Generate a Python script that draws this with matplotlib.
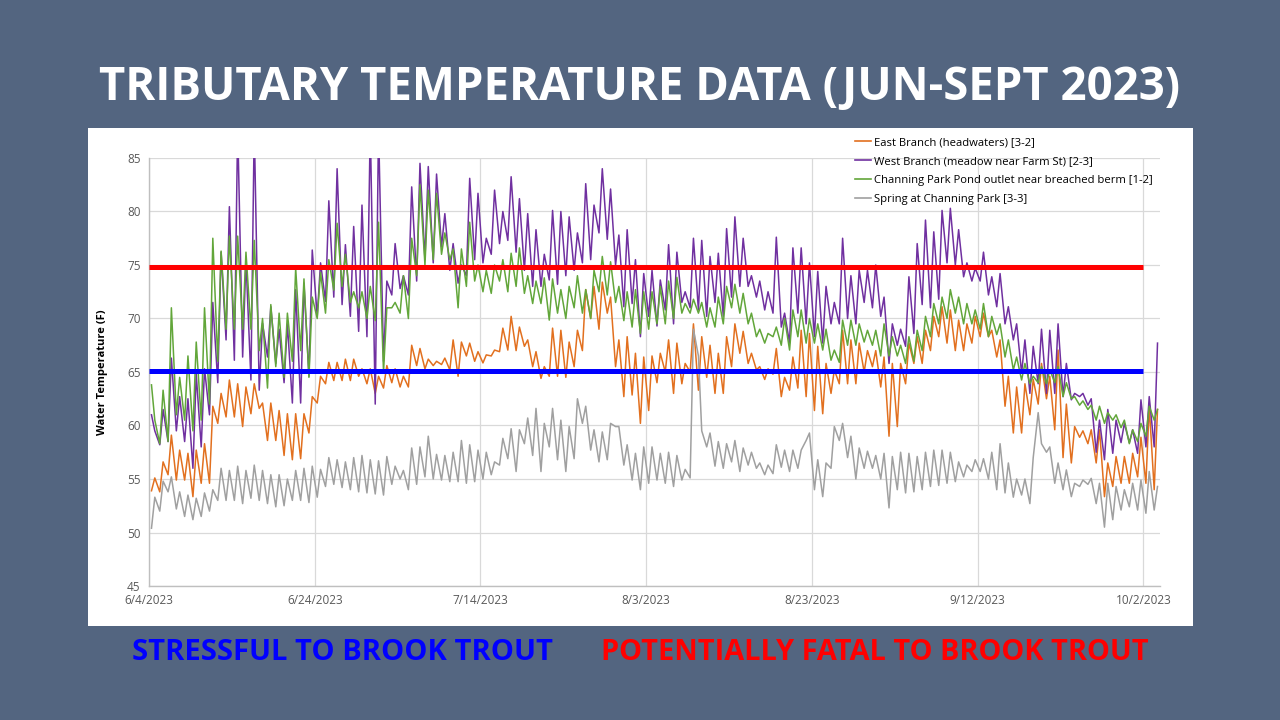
import matplotlib
matplotlib.use('Agg')
import matplotlib.pyplot as plt
import matplotlib.dates as mdates
from matplotlib.patches import Rectangle
from matplotlib.lines import Line2D
from datetime import datetime, timedelta

# ---------------- data ----------------
start = datetime(2023, 6, 4)
tick_dates = ["6/4/2023", "6/24/2023", "7/14/2023", "8/3/2023", "8/23/2023", "9/12/2023", "10/2/2023"]
y_ticks = [45, 50, 55, 60, 65, 70, 75, 80, 85]
fatal_temp = 74.8
stress_temp = 65.1
labels = ["East Branch (headwaters) [3-2]",
          "West Branch (meadow near Farm St) [2-3]",
          "Channing Park Pond outlet near breached berm [1-2]",
          "Spring at Channing Park [3-3]"]

# morning (low) and afternoon (high) readings, one pair per day from 6/4
east_am = [53.9, 53.8, 55.4, 54.9, 54.9, 53.35, 54.6, 54.6, 60.2, 60.8,
           60.8, 59.9, 61.1, 61.6, 58.6, 58.6, 57.2, 56.8, 56.9, 59.3,
           62.1, 63.9, 64.2, 64.2, 64.2, 64.6, 63.9, 63.0, 63.5, 64.0,
           63.6, 63.6, 65.6, 65.3, 65.6, 65.7, 65.2, 64.6, 66.5, 66.0,
           65.85, 66.5, 66.9, 67.05, 67.0, 67.4, 65.5, 64.4, 64.6, 64.6,
           64.5, 65.5, 67.0, 70.0, 69.0, 70.5, 65.5, 62.7, 62.85, 60.2,
           61.4, 64.0, 65.0, 63.0, 63.9, 65.0, 63.3, 64.5, 63.0, 63.0,
           65.5, 66.75, 65.8, 65.2, 64.3, 64.8, 62.7, 63.3, 63.5, 62.7,
           61.4, 61.1, 63.0, 63.9, 63.9, 63.9, 65.0, 65.5, 63.6, 59.0,
           59.9, 63.9, 65.8, 65.8, 67.0, 68.3, 67.7, 67.0, 67.0, 67.7,
           68.3, 68.3, 66.4, 61.8, 59.3, 59.3, 61.0, 62.0, 62.5, 59.6,
           57.0, 56.5, 58.9, 58.3, 56.5, 53.35, 54.3, 54.6, 54.6, 55.2,
           54.6, 54.0]
east_pm = [55.1, 56.6, 59.1, 57.7, 57.4, 57.7, 58.3, 61.8, 63.0, 64.25,
           63.9, 63.6, 63.9, 62.1, 62.1, 61.4, 61.1, 61.1, 61.1, 62.7,
           64.6, 65.9, 65.9, 66.2, 66.2, 65.3, 65.3, 64.6, 65.6, 65.3,
           64.6, 67.5, 67.2, 66.2, 66.0, 66.3, 68.0, 67.8, 67.7, 66.9,
           66.6, 67.05, 69.1, 70.2, 69.2, 68.0, 66.9, 65.5, 69.1, 68.9,
           67.8, 68.9, 72.7, 73.0, 73.4, 72.0, 68.0, 68.3, 66.75, 66.4,
           66.5, 66.75, 68.0, 67.7, 65.8, 69.5, 68.3, 67.5, 66.75, 68.3,
           69.5, 68.8, 66.75, 65.5, 65.3, 67.2, 64.5, 66.4, 68.9, 68.6,
           67.4, 65.8, 65.2, 68.9, 68.0, 67.7, 67.0, 67.0, 66.4, 65.8,
           65.8, 67.7, 68.3, 68.9, 70.2, 71.1, 70.8, 69.85, 69.5, 70.2,
           70.5, 68.9, 68.0, 64.6, 63.6, 63.9, 64.3, 65.8, 64.6, 67.05,
           62.0, 59.9, 59.5, 59.6, 59.6, 56.5, 57.1, 57.1, 57.4, 58.9,
           61.8, 61.5]

west_am = [61.0, 58.2, 58.5, 59.5, 58.5, 56.0, 58.0, 61.0, 64.0, 68.0,
           66.1, 66.4, 64.25, 63.3, 66.4, 65.8, 64.0, 62.1, 62.1, 64.6,
           70.2, 71.6, 72.0, 71.3, 70.2, 68.8, 68.3, 62.0, 66.0, 72.2,
           72.8, 72.2, 73.5, 75.5, 75.2, 76.7, 74.5, 73.3, 74.0, 75.5,
           75.2, 76.0, 77.0, 77.3, 76.2, 74.5, 73.0, 73.0, 73.6, 73.2,
           74.0, 74.5, 75.2, 75.5, 78.0, 77.4, 75.0, 71.1, 71.4, 68.3,
           70.2, 69.3, 70.8, 69.5, 71.5, 71.0, 70.8, 70.2, 71.5, 70.2,
           72.0, 73.0, 73.0, 72.0, 70.8, 70.5, 69.2, 67.7, 70.5, 69.5,
           68.3, 67.7, 69.5, 69.5, 70.0, 69.5, 71.5, 71.0, 70.2, 65.8,
           67.5, 67.4, 68.6, 71.3, 71.0, 71.8, 75.2, 75.0, 73.9, 73.5,
           73.5, 72.2, 71.1, 69.5, 68.0, 64.9, 63.0, 63.9, 63.0, 63.0,
           62.7, 62.4, 62.7, 61.9, 57.5, 56.8, 57.4, 58.4, 58.4, 57.4,
           58.0, 58.0]
west_pm = [59.5, 61.5, 66.3, 62.7, 62.5, 64.8, 65.3, 71.5, 76.2, 80.45,
           88.0, 75.5, 88.0, 69.55, 71.1, 69.0, 69.5, 72.7, 73.3, 76.4,
           75.2, 81.0, 84.0, 76.9, 78.6, 80.6, 88.0, 88.0, 73.5, 77.0,
           74.0, 82.3, 84.5, 84.2, 83.5, 79.8, 77.0, 75.0, 83.1, 81.7,
           77.5, 82.0, 80.0, 83.25, 81.2, 79.8, 78.3, 76.0, 80.1, 80.0,
           79.5, 78.0, 82.6, 80.6, 84.0, 82.1, 77.8, 78.3, 75.5, 74.2,
           74.5, 73.6, 76.9, 76.2, 72.5, 77.5, 77.3, 75.8, 76.1, 78.4,
           79.5, 77.5, 74.0, 73.5, 72.5, 77.6, 70.5, 76.6, 76.6, 75.2,
           74.4, 73.0, 71.5, 77.5, 74.0, 74.5, 74.5, 75.0, 72.0, 69.5,
           69.0, 73.9, 77.0, 79.2, 78.1, 80.1, 80.3, 78.3, 75.2, 74.7,
           76.2, 73.9, 74.2, 71.1, 69.5, 68.0, 67.4, 69.0, 68.9, 69.5,
           65.8, 63.0, 63.0, 62.5, 60.5, 61.5, 60.5, 60.2, 59.6, 62.4,
           62.7, 67.7]

pond_am = [63.8, 58.3, 58.5, 61.0, 60.5, 59.5, 60.5, 62.0, 66.0, 69.0,
           69.0, 69.0, 69.0, 67.0, 63.5, 65.5, 64.5, 66.0, 67.0, 64.5,
           70.0, 70.5, 72.65, 73.0, 71.5, 71.0, 70.0, 69.8, 65.0, 71.0,
           70.5, 70.0, 74.0, 75.0, 75.5, 76.0, 75.5, 71.0, 73.0, 73.5,
           72.5, 72.35, 73.5, 72.5, 73.0, 72.35, 71.4, 71.4, 69.85, 70.5,
           70.0, 71.0, 70.5, 70.0, 72.5, 72.2, 71.5, 69.8, 69.2, 68.6,
           69.0, 69.5, 69.5, 70.0, 70.5, 70.5, 70.5, 69.2, 69.2, 69.5,
           71.0, 70.5, 69.5, 68.3, 67.7, 68.3, 67.5, 67.05, 68.3, 67.7,
           67.7, 67.05, 66.1, 65.9, 67.5, 67.5, 67.8, 67.5, 66.5, 66.5,
           66.5, 65.8, 66.0, 67.0, 68.3, 69.5, 70.0, 70.5, 69.5, 69.5,
           69.0, 68.3, 68.5, 66.4, 65.2, 64.25, 63.9, 64.0, 63.9, 64.0,
           62.7, 62.5, 61.9, 61.5, 60.5, 60.2, 60.5, 59.8, 58.3, 58.5,
           59.0, 60.5]
pond_pm = [60.5, 63.3, 71.0, 64.5, 66.5, 67.8, 71.0, 77.5, 76.3, 77.7,
           77.7, 76.2, 77.3, 70.0, 71.3, 70.5, 70.5, 74.7, 73.7, 72.0,
           74.3, 75.5, 78.9, 76.0, 72.5, 72.5, 73.0, 79.0, 71.0, 71.5,
           74.0, 77.5, 82.5, 82.0, 81.7, 78.0, 76.5, 76.5, 79.0, 75.0,
           74.5, 75.0, 75.5, 76.1, 76.6, 74.0, 73.5, 73.8, 73.7, 72.7,
           73.0, 74.0, 72.7, 74.5, 75.8, 75.3, 73.0, 72.5, 72.7, 72.5,
           72.5, 73.0, 73.5, 73.85, 71.4, 71.8, 71.5, 71.0, 72.0, 73.0,
           73.2, 72.35, 70.5, 69.0, 68.6, 69.2, 70.0, 70.8, 70.8, 70.0,
           69.5, 69.0, 67.05, 69.85, 69.85, 69.5, 68.9, 68.9, 69.5, 68.3,
           67.5, 68.3, 68.9, 70.2, 71.4, 72.0, 72.7, 72.0, 71.4, 70.8,
           71.4, 70.2, 69.5, 68.0, 66.4, 65.8, 64.6, 65.5, 65.2, 65.5,
           64.0, 62.7, 62.3, 61.9, 61.8, 61.2, 61.0, 60.5, 59.6, 60.2,
           61.8, 61.5]

spring_am = [50.4, 52.0, 53.8, 52.2, 51.5, 51.2, 51.5, 52.0, 53.0, 53.0,
             53.0, 52.7, 53.2, 53.0, 52.7, 52.4, 52.5, 53.0, 53.0, 52.8,
             53.3, 54.3, 54.5, 54.2, 54.0, 53.8, 53.7, 53.6, 53.5, 54.5,
             55.0, 54.0, 54.5, 55.2, 55.0, 54.9, 54.75, 54.75, 54.6, 54.75,
             55.0, 55.4, 56.3, 56.9, 55.7, 58.3, 57.2, 55.7, 58.0, 56.8,
             55.7, 56.9, 60.2, 57.7, 56.6, 56.8, 59.9, 56.3, 54.9, 54.0,
             54.6, 54.9, 54.6, 54.3, 54.9, 55.1, 66.5, 58.0, 56.2, 56.0,
             56.6, 55.7, 56.3, 56.0, 55.4, 55.5, 56.1, 55.7, 56.0, 58.6,
             54.0, 53.35, 56.0, 58.6, 57.0, 55.0, 56.0, 56.0, 55.0, 52.3,
             54.0, 53.7, 53.8, 54.0, 54.3, 54.4, 54.6, 54.75, 55.2, 55.7,
             55.7, 55.0, 54.0, 53.7, 53.3, 53.5, 52.7, 61.2, 57.5, 54.6,
             54.0, 53.35, 54.3, 54.5, 52.7, 50.5, 51.2, 52.1, 52.4, 52.1,
             51.8, 52.1]
spring_pm = [53.3, 54.8, 55.2, 53.8, 53.5, 53.2, 53.7, 54.0, 56.0, 55.8,
             56.2, 55.8, 56.3, 55.8, 55.4, 55.4, 55.0, 55.8, 56.0, 56.2,
             55.9, 57.0, 56.8, 56.6, 57.0, 57.2, 56.8, 56.7, 57.1, 56.2,
             55.8, 57.9, 58.0, 59.0, 57.3, 57.2, 57.5, 58.6, 58.2, 57.7,
             57.5, 56.6, 58.8, 59.7, 59.6, 60.7, 61.6, 60.2, 61.6, 60.5,
             59.9, 62.5, 61.8, 59.6, 59.4, 60.2, 59.9, 58.2, 57.4, 58.0,
             58.0, 57.4, 57.5, 57.2, 55.9, 69.0, 59.5, 59.3, 58.5, 58.3,
             58.6, 57.9, 57.5, 56.5, 56.3, 58.2, 57.7, 57.7, 57.7, 59.3,
             56.8, 56.5, 59.9, 60.2, 59.0, 57.9, 57.6, 57.2, 57.4, 57.1,
             57.5, 57.4, 57.1, 57.5, 57.7, 57.7, 57.5, 56.6, 56.3, 56.8,
             56.9, 57.5, 58.3, 56.5, 55.0, 55.0, 57.0, 58.3, 58.0, 56.5,
             55.85, 54.6, 54.9, 55.06, 54.6, 54.6, 54.3, 54.0, 54.6, 54.9,
             55.7, 54.3]

# ---------------- drawing ----------------
BG = '#536580'
C_EAST = '#E2701F'
C_WEST = '#7030A0'
C_POND = '#62A63A'
C_SPRING = '#A0A0A0'
TXT = '#595959'


def build(am, pm):
    t, v = [], []
    for i, (a, p) in enumerate(zip(am, pm)):
        t.append(start + timedelta(days=i + 0.3))
        v.append(a)
        t.append(start + timedelta(days=i + 0.7))
        v.append(p)
    return t, v


fig = plt.figure(figsize=(12.8, 7.2), dpi=100, facecolor=BG)
fig.patches.append(Rectangle((88 / 1280, 1 - 626 / 720), 1105 / 1280, 498 / 720,
                             transform=fig.transFigure, facecolor='white',
                             edgecolor='none', zorder=-5))

ax = fig.add_axes([149 / 1280, 1 - 586 / 720, 1011 / 1280, 428 / 720])
ax.set_zorder(2)
ax.set_facecolor('none')

series = [(east_am, east_pm, C_EAST), (west_am, west_pm, C_WEST),
          (pond_am, pond_pm, C_POND), (spring_am, spring_pm, C_SPRING)]
handles = []
for (am, pm, col), lab in zip(series, labels):
    t, v = build(am, pm)
    ax.plot(t, v, color=col, lw=1.1, zorder=3, solid_joinstyle='round')
    handles.append(Line2D([0], [0], color=col, lw=1.2))

end_line = start + timedelta(days=120)
ax.plot([start, end_line], [fatal_temp, fatal_temp], color='#FF0000', lw=3.6, zorder=4,
        solid_capstyle='butt')
ax.plot([start, end_line], [stress_temp, stress_temp], color='#0000FF', lw=3.6, zorder=4,
        solid_capstyle='butt')

ax.set_ylim(45, 85)
ax.set_xlim(start, start + timedelta(days=122))
ax.set_yticks(y_ticks)
tick_pos = [datetime.strptime(s, "%m/%d/%Y") for s in tick_dates]
ax.set_xticks(tick_pos)
ax.set_xticklabels(tick_dates)
ax.grid(True, color='#D9D9D9', lw=0.9, zorder=0)
ax.set_axisbelow(True)
for s in ['top', 'right']:
    ax.spines[s].set_visible(False)
for s in ['left', 'bottom']:
    ax.spines[s].set_color('#BFBFBF')
    ax.spines[s].set_linewidth(1.0)
ax.tick_params(length=0, labelsize=8.5, labelcolor=TXT, pad=6)
for lab in ax.get_xticklabels() + ax.get_yticklabels():
    lab.set_fontfamily('Open Sans')
ax.set_ylabel('Water Temperature (F)', fontsize=8, fontweight='bold',
              family='Open Sans', color='black', labelpad=14)

leg = fig.legend(handles, labels, loc='upper left', bbox_to_anchor=(855 / 1280, 1 - 137 / 720),
                 frameon=False, prop={'family': 'Open Sans', 'size': 8.1},
                 handlelength=1.4, handletextpad=0.3, labelspacing=0.7, borderaxespad=0,
                 borderpad=0)
leg.set_zorder(5)

fig.text(0.5, 1 - 88 / 720, 'TRIBUTARY TEMPERATURE DATA (JUN-SEPT 2023)', ha='center',
         va='center', color='white', fontsize=32.8, fontweight='bold', family='Open Sans')
fig.text(343 / 1280, 1 - 653 / 720, 'STRESSFUL TO BROOK TROUT', ha='center', va='center',
         color='#0000FF', fontsize=21, fontweight='bold', family='Open Sans')
fig.text(875 / 1280, 1 - 653 / 720, 'POTENTIALLY FATAL TO BROOK TROUT', ha='center',
         va='center', color='#FF0000', fontsize=20.8, fontweight='bold', family='Open Sans')

fig.savefig('out.png', dpi=100, facecolor=BG)
